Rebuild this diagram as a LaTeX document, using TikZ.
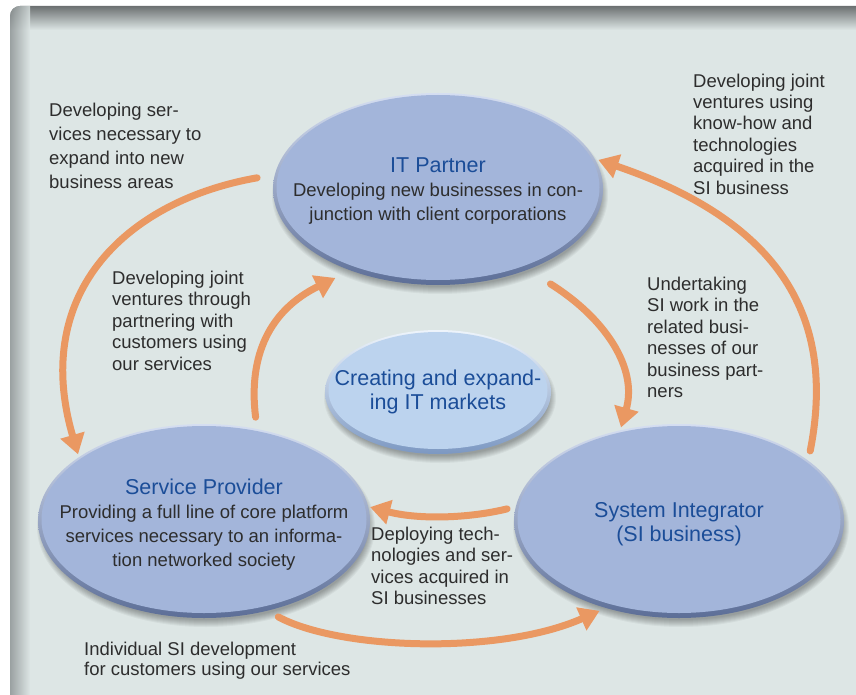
\documentclass[tikz,border=0pt]{standalone}
\usepackage{fontspec}
\setmainfont{Liberation Sans}
\usepackage{xcolor}
\usepackage{tikz}
\usetikzlibrary{arrows.meta, shapes.geometric, positioning}

\definecolor{flaeche}{HTML}{DDE6E5}
\definecolor{rahmenoben}{HTML}{6C7071}
\definecolor{rahmenlinks}{HTML}{8A9091}
\definecolor{feldfarbe}{HTML}{A3B5DA}
\definecolor{feldhell}{HTML}{D5DEF1}
\definecolor{feldrand}{HTML}{5C6E97}
\definecolor{kernfarbe}{HTML}{BCD3EE}
\definecolor{kernhell}{HTML}{EEF4FB}
\definecolor{kernrand}{HTML}{7C98C2}
\definecolor{titelblau}{HTML}{1B4D98}
\definecolor{schrift}{HTML}{2D2D2D}
\definecolor{pfeil}{HTML}{EA9862}

\newcommand\titelschrift{\fontsize{21.5}{24}\selectfont\color{titelblau}}

\tikzset{
  feld/.style n args={3}{ellipse, inner sep=0pt, outer sep=0pt,
    minimum width=2*#1, minimum height=2*#2,
    top color=feldhell, bottom color=feldrand,
    path picture={\fill[#3] ([yshift=1.5pt]path picture bounding box.center)
      ellipse ({#1-3.5pt} and {#2-3.5pt});}},
  inhalt/.style={align=center, inner sep=0pt, text=schrift,
    font=\fontsize{18.5}{24}\selectfont},
  notiz/.style={align=left, inner sep=0pt, anchor=base west, text=schrift,
    font=\fontsize{18.5}{21.5}\selectfont},
  verlauf/.style={draw=pfeil, line width=7pt, line cap=round,
    -{Triangle[length=20pt,width=24pt]}}
}

\begin{document}
\begin{tikzpicture}[x=1pt, y=-1pt]
  \useasboundingbox (0,0) rectangle (856,695);
  % Hintergrund
  \begin{scope}
    \clip[rounded corners=10pt] (10,6) rectangle (880,720);
    \fill[flaeche] (10,6) rectangle (880,720);
    \shade[top color=rahmenoben, bottom color=flaeche] (10,6) rectangle (880,30);
    \shade[left color=rahmenlinks, right color=flaeche, fill opacity=0.8] (10,6) rectangle (30,720);
  \end{scope}
  % Schatten
  \foreach \cx/\cy/\a/\b in {438/189/165/96, 438/392/113/62, 204/521/166/97, 679/521/165/97}
    \foreach \r in {0,...,7}
      \fill[black, opacity=0.045] (\cx+2,\cy+6) ellipse ({\a-4+\r} and {\b-4+\r});
  % Ellipsen
  \node[feld={165pt}{96pt}{feldfarbe}] (itp) at (438,189) {};
  \node[feld={113pt}{62pt}{kernfarbe}, top color=kernhell, bottom color=kernrand] (kern) at (438,392) {};
  \node[feld={166pt}{97pt}{feldfarbe}] (sp) at (204,521) {};
  \node[feld={165pt}{97pt}{feldfarbe}] (si) at (679,521) {};
  \node[inhalt, yshift=-2pt] (itp-text) at (itp) {{\titelschrift IT Partner}\\
    Developing new businesses in con-\\junction with client corporations};
  \node[inhalt] (kern-text) at (kern) {\titelschrift Creating and expand-\\
    {\titelschrift ing IT markets}};
  \node[inhalt, yshift=-4pt] (sp-text) at (sp) {{\titelschrift Service Provider}\\
    Providing a full line of core platform\\services necessary to an informa-\\tion networked society};
  \node[inhalt, yshift=-3pt] (si-text) at (si) {{\titelschrift System Integrator}\\
    {\titelschrift (SI business)}};
  % Beschriftungen (Grundlinie der letzten Zeile)
  \node[notiz, font=\fontsize{18.5}{24}\selectfont] (n-neu) at (49,189)
    {Developing ser-\\vices necessary to\\expand into new\\business areas};
  \node[notiz] (n-wissen) at (693,194.5)
    {Developing joint\\ventures using\\know-how and\\technologies\\acquired in the\\SI business};
  \node[notiz] (n-kunden) at (112,370)
    {Developing joint\\ventures through\\partnering with\\customers using\\our services};
  \node[notiz] (n-partner) at (647,397.5)
    {Undertaking\\SI work in the\\related busi-\\nesses of our\\business part-\\ners};
  \node[notiz] (n-technik) at (371,604.5)
    {Deploying tech-\\nologies and ser-\\vices acquired in\\SI businesses};
  \node[notiz, font=\fontsize{18.5}{20}\selectfont] (n-einzeln) at (84,675)
    {Individual SI development\\for customers using our services};
  % Pfeile
  \draw[verlauf, shorten <=18pt, shorten >=3pt] (itp.175) .. controls (130,200) and (30,290) .. (sp.153);
  \draw[verlauf, shorten <=12pt, shorten >=17pt] (sp.60) .. controls (248,355) and (270,310) .. (itp.223);
  \draw[verlauf, shorten <=27pt, shorten >=3pt] (itp.318) .. controls (605,318) and (638,368) .. (si.123);
  \draw[verlauf, shorten <=10pt, shorten >=4pt] (si.25) .. controls (840,300) and (760,215) .. (itp.11);
  \draw[verlauf, shorten <=9pt, shorten >=2pt] (si.175) .. controls (470,518) and (420,520) .. (sp.5);
  \draw[verlauf, shorten <=13pt, shorten >=7pt] (sp.305) .. controls (340,650) and (500,655) .. (si.230);
\end{tikzpicture}
\end{document}
